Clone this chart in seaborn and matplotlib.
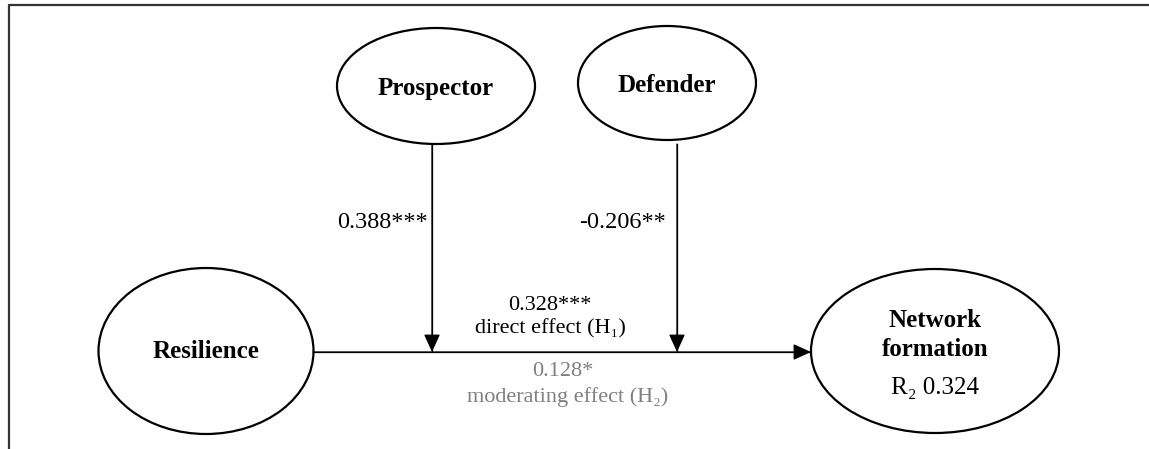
import numpy as np
import pandas as pd
import matplotlib
matplotlib.use("Agg")
import matplotlib.pyplot as plt
from matplotlib.patches import Ellipse
import seaborn as sns

# -- Model values ---------------------------------------------------------
construct_names = ["Prospector", "Defender", "Resilience", "Network\nformation"]
prospector_coef, prospector_sig = 0.388, "***"
defender_coef, defender_sig = -0.206, "**"
direct_coef, direct_sig = 0.328, "***"
moderating_coef, moderating_sig = 0.128, "*"
network_r2 = 0.324

# -- Layout (pixel space of the 1149 x 449 canvas) ------------------------
node_cx = [436, 667, 206, 935]
node_cy = [86, 83, 351, 351]
node_w = [198, 178, 215, 248]
node_h = [116, 114, 166, 164]

# path segments: start -> arrow tip
path_ids = ["main", "prospector", "defender"]
path_x0 = [313, 432, 677]
path_y0 = [352, 144, 144]
path_x1 = [811, 432, 677]
path_y1 = [352, 352, 352]

sns.set_theme(style="white")
plt.rcParams["font.family"] = ["Liberation Serif", "DejaVu Serif"]
plt.rcParams["text.color"] = "black"

fig = plt.figure(figsize=(11.49, 4.49), dpi=100)
ax = fig.add_axes([0, 0, 1, 1])
ax.set_xlim(0, 1149)
ax.set_ylim(449, 0)
ax.axis("off")

# outer frame (top and left edges only)
frame = pd.DataFrame({"x": [9, 9, 1149], "y": [449, 5, 5]})
sns.lineplot(data=frame, x="x", y="y", sort=False, estimator=None,
             color="#333333", lw=1.6, ax=ax)

# construct ellipses
for cx, cy, w, h in zip(node_cx, node_cy, node_w, node_h):
    ax.add_patch(Ellipse((cx, cy), w, h, fill=False, ec="black", lw=1.6))

# path shafts
segs = pd.DataFrame({
    "path": np.repeat(path_ids, 2),
    "x": np.ravel(np.column_stack([path_x0, path_x1])),
    "y": np.ravel(np.column_stack([path_y0, path_y1])),
})
sns.lineplot(data=segs, x="x", y="y", units="path", estimator=None,
             sort=False, color="black", lw=0.9, ax=ax)

# arrow heads
for x0, y0, x1, y1 in zip(path_x0, path_y0, path_x1, path_y1):
    ax.annotate("", xy=(x1, y1), xytext=(x0, y0),
                arrowprops=dict(arrowstyle="-|>,head_length=1.1,head_width=0.5",
                                mutation_scale=10, color="black", lw=0.9,
                                shrinkA=0, shrinkB=0))

# construct labels
bold = dict(fontsize=18, fontweight="bold", ha="center", va="center",
            color="black")
ax.text(node_cx[0], node_cy[0] + 2, construct_names[0], **bold)
ax.text(node_cx[1], node_cy[1] + 2, construct_names[1], **bold)
ax.text(node_cx[2], node_cy[2] + 1, construct_names[2], **bold)
ax.text(node_cx[3], 335, construct_names[3], linespacing=1.35, **bold)
ax.text(node_cx[3], 388, f"R\u2082 {network_r2:.3f}", fontsize=18,
        ha="center", va="center", color="black")

# coefficients
ax.text(428, 222, f"{prospector_coef:.3f}{prospector_sig}", fontsize=17.5,
        ha="right", va="center", color="black")
ax.text(666, 222, f"{defender_coef:.3f}{defender_sig}", fontsize=17.5,
        ha="right", va="center", color="black")
ax.text(550, 305, f"{direct_coef:.3f}{direct_sig}", fontsize=16,
        ha="center", va="center", color="black")
ax.text(550, 329, "direct effect (H\u2081)", fontsize=16,
        ha="center", va="center", color="black")
gray = "#7f7f7f"
ax.text(563, 371, f"{moderating_coef:.3f}{moderating_sig}", fontsize=16,
        ha="center", va="center", color=gray)
ax.text(568, 397, "moderating effect (H\u2082)", fontsize=16,
        ha="center", va="center", color=gray)

fig.savefig("out.png", dpi=100)
